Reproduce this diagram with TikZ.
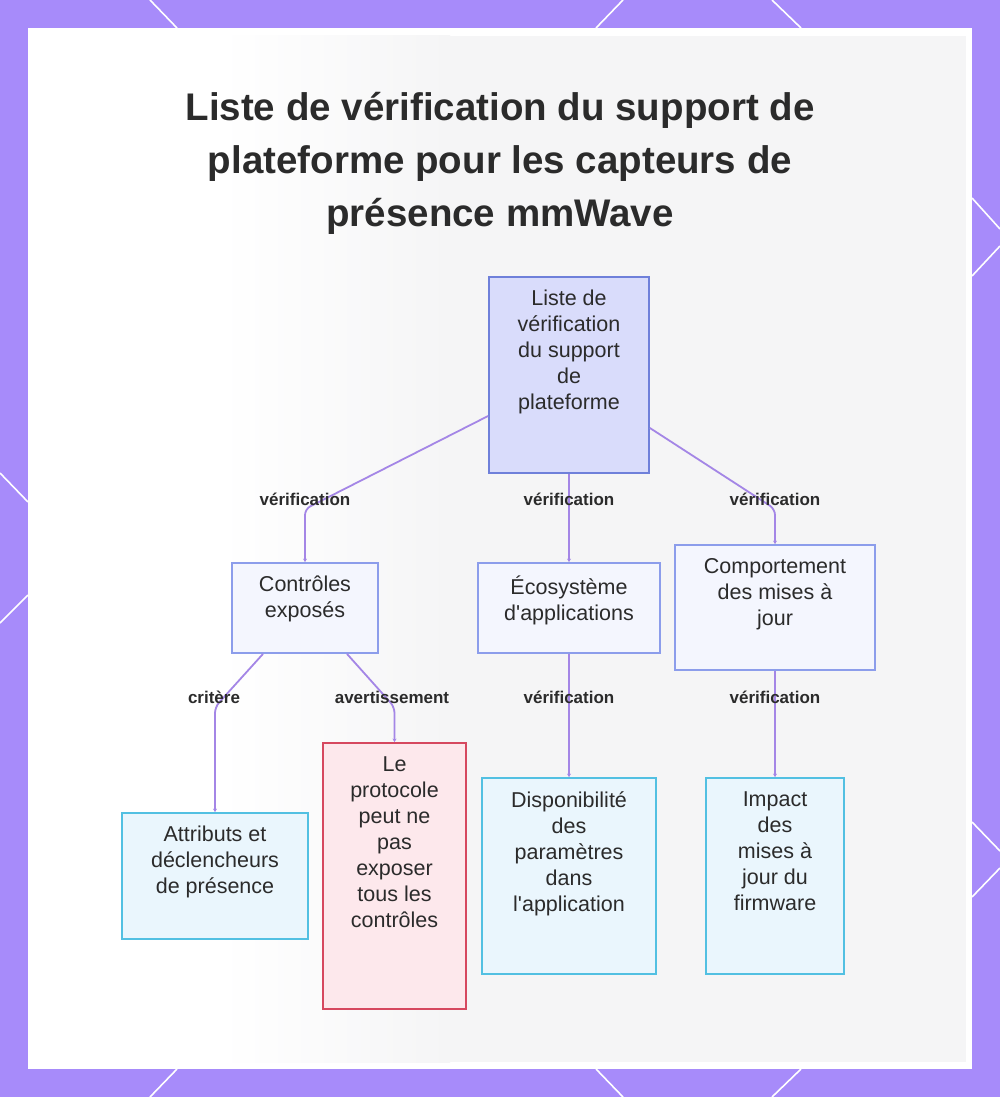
\documentclass[tikz,border=0pt]{standalone}
\usepackage{fontspec}
\setmainfont{Liberation Sans}
\usetikzlibrary{arrows.meta,calc}
\definecolor{bgpurple}{HTML}{A78BFA}
\definecolor{panelgray}{HTML}{F5F5F6}
\definecolor{edgec}{HTML}{A486E6}
\definecolor{txt}{HTML}{2B2B2B}
\definecolor{rootfill}{HTML}{D9DCFB}
\definecolor{rootdraw}{HTML}{6F80DA}
\definecolor{midfill}{HTML}{F4F6FE}
\definecolor{middraw}{HTML}{8C9DEB}
\definecolor{leaffill}{HTML}{EAF6FD}
\definecolor{leafdraw}{HTML}{52C0E2}
\definecolor{warnfill}{HTML}{FDE8EC}
\definecolor{warndraw}{HTML}{D6485F}
\tikzset{
  boxbase/.style={rectangle, line width=1.8pt, inner sep=0pt},
  rootbox/.style={boxbase, fill=rootfill, draw=rootdraw},
  midbox/.style={boxbase, fill=midfill, draw=middraw},
  leafbox/.style={boxbase, fill=leaffill, draw=leafdraw},
  warnbox/.style={boxbase, fill=warnfill, draw=warndraw},
  boxtext/.style={anchor=north, inner sep=0pt, align=center, text=txt,
    font=\fontsize{21.5}{26}\selectfont, execute at begin node=\strut},
  lbl/.style={inner sep=0pt, text=txt, font=\fontsize{17}{20}\selectfont\bfseries},
  edge/.style={draw=edgec, line width=1.8pt, rounded corners=6pt,
    -{Stealth[length=3.5pt,width=4pt]}},
  vedge/.style={draw=edgec, line width=1.8pt, line cap=butt,
    -{Stealth[length=3.5pt,width=4pt]}},
  deco/.style={draw=white, line width=1.6pt},
  titlestyle/.style={align=center, text=txt, inner sep=0pt,
    font=\fontsize{38.5}{53}\selectfont\bfseries}
}
\begin{document}
\begin{tikzpicture}[x=1pt,y=-1pt]
\useasboundingbox (0,0) rectangle (1000,1097);
\fill[bgpurple] (0,0) rectangle (1000,1097);
% decorative white lines
\draw[deco] (150,0) -- (177,28);
\draw[deco] (623,0) -- (596,28);
\draw[deco] (772,0) -- (801,28);
\draw[deco] (150,1097) -- (177,1069);
\draw[deco] (623,1097) -- (596,1069);
\draw[deco] (772,1097) -- (801,1069);
\draw[deco] (972,198) -- (1000,229);
\draw[deco] (1000,246) -- (972,276);
\draw[deco] (972,822) -- (1000,851);
\draw[deco] (1000,868) -- (972,897);
\draw[deco] (0,473) -- (28,502);
\draw[deco] (28,595) -- (0,623);
% panel
\fill[white] (28,28) rectangle (972,1069);
\fill[panelgray] (450,36) rectangle (966,1062);
\shade[left color=white, right color=panelgray] (220,36) rectangle (450,1062);

% title
\node[titlestyle] (title) at (500,163) {Liste de vérification du support de\\plateforme pour les capteurs de\\présence mmWave};

% boxes
\node[rootbox, minimum width=160pt, minimum height=196pt] (root) at (569,375) {};
\node[midbox, minimum width=146pt, minimum height=90pt] (ctrl) at (305,608) {};
\node[midbox, minimum width=182pt, minimum height=90pt] (eco) at (569,608) {};
\node[midbox, minimum width=200pt, minimum height=125pt] (comp) at (775,607.5) {};
\node[leafbox, minimum width=186pt, minimum height=126pt] (attr) at (215,876) {};
\node[warnbox, minimum width=143pt, minimum height=266pt] (proto) at (394.5,876) {};
\node[leafbox, minimum width=174pt, minimum height=196pt] (dispo) at (569,876) {};
\node[leafbox, minimum width=138pt, minimum height=196pt] (impact) at (775,876) {};

% texts
\node[boxtext] (root-t) at ([yshift=-14pt]root.north) {Liste de\\vérification\\du support\\de\\plateforme};
\node[boxtext] (ctrl-t) at ([yshift=-14pt]ctrl.north) {Contrôles\\exposés};
\node[boxtext] (eco-t) at ([yshift=-14pt]eco.north) {Écosystème\\d\textquotesingle applications};
\node[boxtext] (comp-t) at ([yshift=-14pt]comp.north) {Comportement\\des mises à\\jour};
\node[boxtext] (attr-t) at ([yshift=-14pt]attr.north) {Attributs et\\déclencheurs\\de présence};
\node[boxtext] (proto-t) at ([yshift=-14pt]proto.north) {Le\\protocole\\peut ne\\pas\\exposer\\tous les\\contrôles};
\node[boxtext] (dispo-t) at ([yshift=-14pt]dispo.north) {Disponibilité\\des\\paramètres\\dans\\l\textquotesingle application};
\node[boxtext] (impact-t) at ([yshift=-14pt]impact.north) {Impact\\des\\mises à\\jour du\\firmware};

% edges
\draw[edge] ([yshift=-41pt]root.west) -- (ctrl.north |- 0,509) -- (ctrl.north);
\draw[vedge] (root.south) -- (eco.north);
\draw[edge] ([yshift=-53pt]root.east) -- (comp.north |- 0,509) -- (comp.north);
\draw[edge] ([xshift=-42pt]ctrl.south) -- (attr.north |- 0,707) -- (attr.north);
\draw[edge] ([xshift=42pt]ctrl.south) -- (proto.north |- 0,707) -- (proto.north);
\draw[vedge] (eco.south) -- (dispo.north);
\draw[vedge] (comp.south) -- (impact.north);

% labels
\node[lbl] (l1) at (305,499) {vérification};
\node[lbl] (l2) at (569,499) {vérification};
\node[lbl] (l3) at (775,499) {vérification};
\node[lbl] (l4) at (214,697) {critère};
\node[lbl] (l5) at (392,697) {avertissement};
\node[lbl] (l6) at (569,697) {vérification};
\node[lbl] (l7) at (775,697) {vérification};
\end{tikzpicture}
\end{document}
